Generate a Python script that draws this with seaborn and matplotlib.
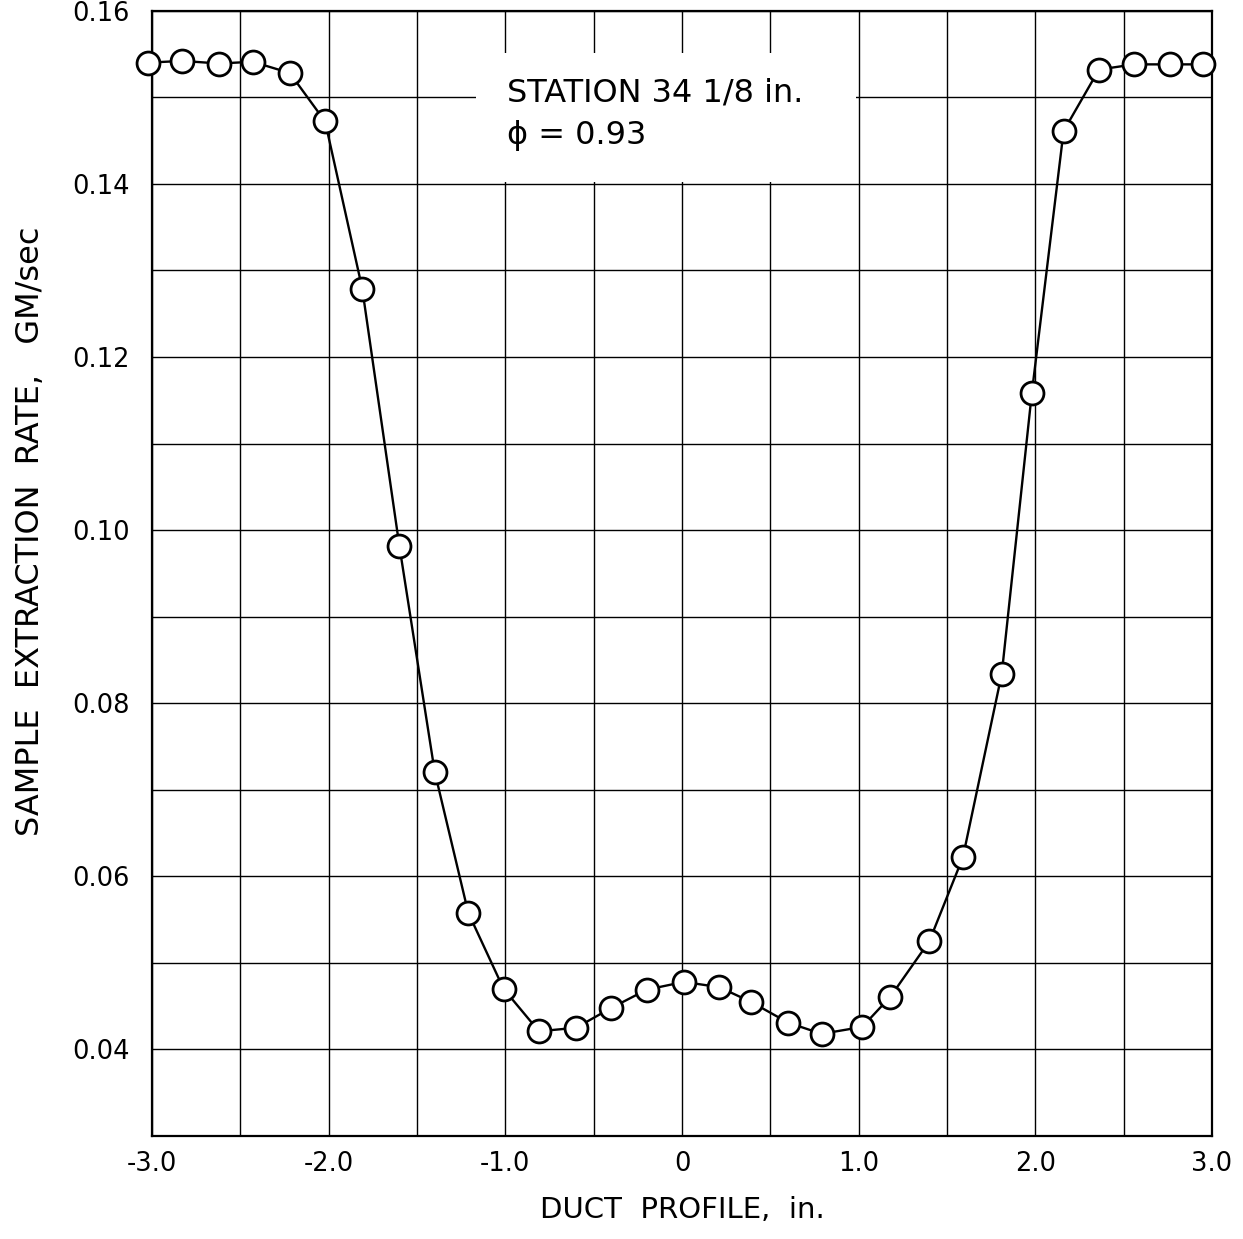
import matplotlib
matplotlib.use("Agg")
import matplotlib.pyplot as plt
import seaborn as sns
import pandas as pd
from matplotlib.patches import Rectangle

# ---- data ----
duct_profile = [-3.02, -2.83, -2.62, -2.43, -2.22, -2.02, -1.81, -1.60, -1.40, -1.21,
                -1.01, -0.81, -0.60, -0.40, -0.20, 0.01, 0.21, 0.39, 0.60, 0.79,
                1.02, 1.18, 1.40, 1.59, 1.81, 1.98, 2.16, 2.36, 2.56, 2.76, 2.95]
extraction_rate = [0.1540, 0.1542, 0.1539, 0.1541, 0.1528, 0.1472, 0.1279, 0.0982, 0.0721, 0.0558,
                   0.0470, 0.0421, 0.0425, 0.0448, 0.0469, 0.0478, 0.0472, 0.0455, 0.0431, 0.0418,
                   0.0426, 0.0461, 0.0525, 0.0622, 0.0834, 0.1158, 0.1461, 0.1532, 0.1538, 0.1538, 0.1538]
x_ticks = [-3.0, -2.0, -1.0, 0.0, 1.0, 2.0, 3.0]
x_tick_labels = ["-3.0", "-2.0", "-1.0", "0", "1.0", "2.0", "3.0"]
y_ticks = [0.04, 0.06, 0.08, 0.10, 0.12, 0.14, 0.16]
y_tick_labels = ["0.04", "0.06", "0.08", "0.10", "0.12", "0.14", "0.16"]
annotation_lines = ["STATION 34 1/8 in.", "ϕ = 0.93"]
x_label = "DUCT  PROFILE,  in."
y_label = "SAMPLE  EXTRACTION  RATE,   GM/sec"

df = pd.DataFrame({"x": duct_profile, "y": extraction_rate})

sns.set_theme(style="white")
plt.rcParams["font.family"] = ["DejaVu Sans"]
plt.rcParams["text.color"] = "black"

fig = plt.figure(figsize=(12.43, 12.39), dpi=100)
ax = fig.add_axes([152 / 1243, 1 - 1136 / 1239, 1060 / 1243, (1136 - 10.7) / 1239])

# grid every 0.5 in. and every 0.01 GM/sec
ax.set_xlim(-3.0, 3.0)
ax.set_ylim(0.03, 0.16)
ax.set_xticks(x_ticks)
ax.set_xticklabels(x_tick_labels)
ax.set_yticks(y_ticks)
ax.set_yticklabels(y_tick_labels)
ax.set_xticks([v / 2 for v in range(-6, 7)], minor=True)
ax.set_yticks([v / 100 for v in range(3, 17)], minor=True)
ax.grid(which="both", color="black", linewidth=1.0, zorder=0)
ax.set_axisbelow(True)

# white label box covering the grid
ax.add_patch(Rectangle((0.3057, 0.8478), 0.3585, 0.1146, transform=ax.transAxes,
                       facecolor="white", edgecolor="none", zorder=1.5))

sns.lineplot(data=df, x="x", y="y", ax=ax, color="black", linewidth=1.7,
             sort=False, zorder=3, clip_on=False)
sns.scatterplot(data=df, x="x", y="y", ax=ax, s=16.5**2, facecolor="white",
                edgecolor="black", linewidth=2.0, zorder=4, clip_on=False)

ax.tick_params(axis="both", which="both", length=0, labelsize=18.5, colors="black")
ax.tick_params(axis="x", pad=11)
ax.tick_params(axis="y", pad=16)

ax.set_xlabel(x_label, fontsize=21, color="black")
ax.set_ylabel(y_label, fontsize=23, color="black")
ax.xaxis.set_label_coords(0.5, -0.053)
ax.yaxis.set_label_coords(-0.100, 0.537)

for s in ax.spines.values():
    s.set_color("black")
    s.set_linewidth(1.6)

ax.text(0.335, 0.927, annotation_lines[0], transform=ax.transAxes, fontsize=23,
        va="center", ha="left", zorder=5, color="black")
ax.text(0.335, 0.889, annotation_lines[1], transform=ax.transAxes, fontsize=23,
        va="center", ha="left", zorder=5, color="black")

fig.savefig("out.png", dpi=100, facecolor="white")
